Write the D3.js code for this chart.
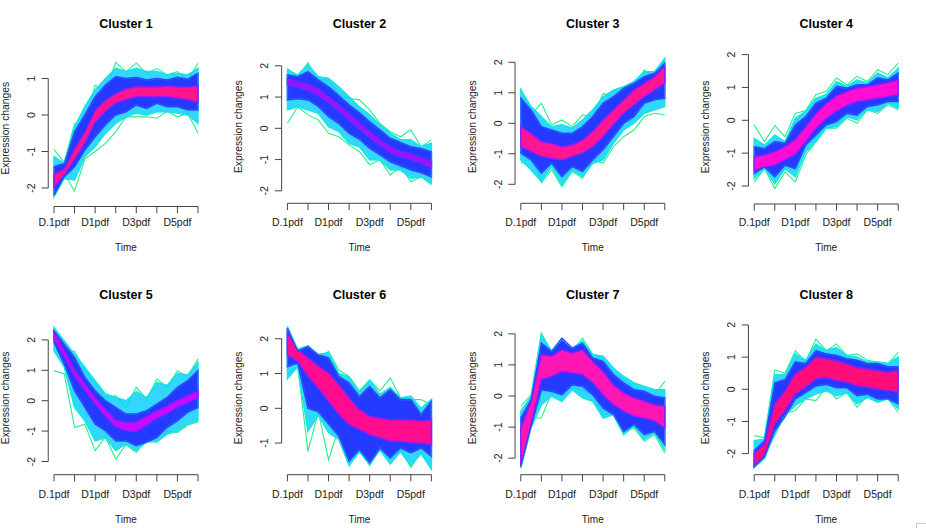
<!DOCTYPE html>
<html><head><meta charset="utf-8">
<script src="https://cdn.jsdelivr.net/npm/d3@7"></script>
<style>body{margin:0;background:#fff}svg{display:block;font-family:"Liberation Sans",Arial,Helvetica,sans-serif}</style>
</head><body>
<svg id="chart" width="926" height="528"></svg>
<script>
// ---------- DATA (15 time points; ticks every other point) ----------
const timeIndex = d3.range(15);
const tickIndex = [0, 2, 4, 6, 8, 10, 12, 14];
const tickLabels = ["D.1pdf", "", "D1pdf", "", "D3pdf", "", "D5pdf", ""];
const clusterTitles = ["Cluster 1","Cluster 2","Cluster 3","Cluster 4","Cluster 5","Cluster 6","Cluster 7","Cluster 8"];
const yDomains = [[-2.507,1.781],[-2.40,2.506],[-2.623,2.403],[-2.548,2.14],[-2.434,2.622],[-1.91,2.511],[-2.532,2.413],[-2.654,2.122]];

// envelopes of the line bundles by membership (green = low ... core = high)
const c1GreenHi = [-0.94,-1.3,-0.23,-0.32,0.82,0.65,1.44,1.19,1.42,1.14,1.28,1.1,1.19,0.96,1.42];
const c1GreenLo = [-2.24,-1.62,-2.08,-1.2,-1.0,-0.78,-0.46,-0.05,-0.05,-0.05,-0.09,0.1,-0.05,0.05,-0.5];
const c1CyanHi  = [-1.14,-1.33,-0.32,0.23,0.69,1.0,1.28,1.19,1.28,1.19,1.19,1.1,1.14,1.1,1.28];
const c1CyanLo  = [-2.24,-1.74,-1.78,-1.14,-0.87,-0.5,-0.23,-0.05,0.05,0.0,0.09,0.09,0.05,0.0,-0.23];
const c1BlueHi  = [-1.42,-1.33,-0.46,0.0,0.5,0.82,1.05,1.0,1.03,0.96,1.0,0.96,1.03,0.98,1.14];
const c1BlueLo  = [-2.2,-1.69,-1.42,-0.96,-0.6,-0.27,0.0,0.09,0.27,0.18,0.32,0.23,0.23,0.14,0.14];
const c1CoreHi  = [-1.62,-1.48,-0.93,-0.48,0.12,0.4,0.58,0.72,0.77,0.77,0.77,0.8,0.77,0.76,0.8];
const c1CoreLo  = [-1.98,-1.64,-1.22,-0.76,-0.2,0.1,0.33,0.42,0.5,0.5,0.5,0.5,0.46,0.42,0.34];

const c2GreenHi = [1.92,1.65,2.1,1.55,1.55,1.07,0.96,0.91,0.59,0.16,-0.11,-0.27,-0.05,-0.59,-0.37];
const c2GreenLo = [0.16,0.69,0.43,0.27,-0.16,-0.27,-0.53,-0.75,-1.17,-1.01,-1.49,-1.23,-1.71,-1.55,-1.81];
const c2CyanHi  = [1.87,1.71,2.03,1.65,1.6,1.33,1.01,0.69,0.43,0.11,-0.16,-0.37,-0.37,-0.59,-0.48];
const c2CyanLo  = [0.59,0.69,0.59,0.48,0.05,-0.1,-0.48,-0.59,-1.01,-1.01,-1.33,-1.33,-1.6,-1.55,-1.76];
const c2BlueHi  = [1.71,1.65,1.81,1.55,1.33,1.05,0.75,0.5,0.21,-0.05,-0.32,-0.45,-0.59,-0.65,-0.75];
const c2BlueLo  = [0.91,0.95,0.91,0.7,0.37,0.15,-0.16,-0.35,-0.64,-0.85,-1.07,-1.2,-1.33,-1.42,-1.55];
const c2CoreHi  = [1.58,1.48,1.4,1.26,1.0,0.74,0.46,0.16,-0.12,-0.37,-0.6,-0.74,-0.82,-0.94,-1.08];
const c2CoreLo  = [1.4,1.32,1.22,1.06,0.82,0.56,0.28,-0.02,-0.3,-0.54,-0.78,-0.9,-1.0,-1.1,-1.26];

const c3GreenHi = [1.15,0.27,0.66,-0.05,0.11,-0.11,0.27,0.22,0.98,0.87,1.18,1.15,1.75,1.42,2.13];
const c3GreenLo = [-1.31,-1.09,-1.95,-1.53,-2.08,-1.58,-1.8,-1.2,-1.31,-0.77,-0.44,-0.22,0.22,0.33,0.27];
const c3CyanHi  = [1.09,0.55,0.22,-0.11,-0.05,-0.16,0.11,0.44,0.87,1.09,1.2,1.37,1.69,1.69,2.13];
const c3CyanLo  = [-1.2,-1.53,-1.91,-1.42,-2.02,-1.53,-1.75,-1.31,-1.2,-0.66,-0.22,0.0,0.33,0.44,0.55];
const c3BlueHi  = [0.82,0.44,-0.11,-0.22,-0.33,-0.33,-0.11,0.22,0.66,0.87,1.15,1.31,1.53,1.64,1.97];
const c3BlueLo  = [-0.98,-1.2,-1.64,-1.31,-1.75,-1.42,-1.58,-1.2,-0.87,-0.44,0.0,0.22,0.66,0.77,0.82];
const c3CoreHi  = [-0.11,-0.33,-0.6,-0.66,-0.77,-0.71,-0.55,-0.27,0.11,0.44,0.77,1.09,1.31,1.53,1.86];
const c3CoreLo  = [-0.77,-0.93,-1.09,-1.15,-1.2,-1.09,-0.98,-0.77,-0.44,-0.05,0.33,0.6,0.87,1.09,1.31];

const c4GreenHi = [-0.14,-0.65,-0.16,-0.5,0.21,0.3,0.78,0.88,1.29,1.08,1.34,1.18,1.54,1.39,1.74];
const c4GreenLo = [-1.88,-1.47,-2.08,-1.57,-1.88,-1.06,-0.65,-0.24,-0.24,0.06,-0.09,0.32,0.21,0.47,0.32];
const c4CyanHi  = [-0.55,-0.76,-0.45,-0.65,0.06,0.27,0.67,0.78,1.18,1.03,1.23,1.13,1.44,1.29,1.59];
const c4CyanLo  = [-1.78,-1.47,-1.93,-1.47,-1.72,-0.96,-0.65,-0.24,-0.19,0.11,0.01,0.32,0.27,0.52,0.37];
const c4BlueHi  = [-0.81,-0.86,-0.65,-0.7,-0.14,0.11,0.52,0.67,1.03,0.98,1.08,1.08,1.29,1.23,1.44];
const c4BlueLo  = [-1.62,-1.42,-1.72,-1.37,-1.47,-0.76,-0.45,-0.14,-0.04,0.21,0.16,0.42,0.47,0.57,0.57];
const c4CoreHi  = [-1.11,-1.06,-0.96,-0.8,-0.58,-0.2,0.2,0.5,0.75,0.88,0.98,1.03,1.08,1.15,1.23];
const c4CoreLo  = [-1.52,-1.42,-1.37,-1.2,-1.04,-0.65,-0.25,0.05,0.28,0.45,0.57,0.62,0.67,0.72,0.78];

const c5GreenHi = [2.36,1.53,1.64,0.99,0.55,0.11,0.16,-0.2,0.44,0.05,0.71,0.45,0.99,0.8,1.37];
const c5GreenLo = [0.99,0.88,-0.88,-0.77,-1.64,-1.2,-1.92,-1.45,-1.7,-1.25,-1.37,-1.0,-1.04,-0.8,-0.7];
const c5CyanHi  = [2.41,1.97,1.53,1.1,0.66,0.22,0.11,0.0,0.3,0.1,0.6,0.5,0.9,0.85,1.26];
const c5CyanLo  = [1.64,1.1,-0.22,-0.66,-1.32,-1.21,-1.64,-1.42,-1.65,-1.35,-1.35,-1.1,-0.99,-0.77,-0.66];
const c5BlueHi  = [2.3,1.86,1.42,0.77,0.33,0.0,-0.22,-0.44,-0.44,-0.33,-0.11,0.11,0.44,0.66,0.99];
const c5BlueLo  = [1.92,1.2,0.33,-0.22,-0.77,-0.99,-1.32,-1.32,-1.48,-1.37,-1.21,-0.88,-0.66,-0.38,-0.22];
const c5CoreHi  = [2.26,1.66,1.0,0.55,0.1,-0.29,-0.64,-0.72,-0.7,-0.52,-0.34,-0.18,0.01,0.16,0.31];
const c5CoreLo  = [2.04,1.44,0.8,0.35,-0.1,-0.51,-0.86,-0.98,-1.02,-0.8,-0.58,-0.42,-0.21,-0.06,0.09];

const c6GreenHi = [2.2,1.65,1.7,1.45,1.64,1.1,0.92,0.5,0.82,0.5,0.87,0.3,0.25,0.25,0.1];
const c6GreenLo = [1.0,1.2,-1.24,-0.1,-1.48,-0.55,-1.55,-1.2,-1.65,-1.15,-1.6,-1.2,-1.7,-1.25,-1.75];
const c6CyanHi  = [2.35,1.7,1.8,1.55,1.6,1.0,0.9,0.45,0.8,0.4,0.6,0.3,0.35,0.0,0.25];
const c6CyanLo  = [0.85,1.2,-0.66,-0.2,-0.7,-0.9,-1.65,-1.25,-1.62,-1.2,-1.6,-1.25,-1.65,-1.3,-1.75];
const c6BlueHi  = [2.31,1.64,1.78,1.54,1.45,0.92,0.73,0.34,0.63,0.3,0.54,0.25,0.25,-0.18,0.2];
const c6BlueLo  = [1.2,1.3,0.0,-0.1,-0.45,-0.8,-1.52,-1.19,-1.57,-1.14,-1.43,-1.14,-1.28,-1.14,-1.38];
const c6CoreHi  = [2.16,1.69,1.45,1.21,1.02,0.68,0.3,-0.04,-0.23,-0.28,-0.33,-0.33,-0.33,-0.37,-0.33];
const c6CoreLo  = [1.54,1.35,0.92,0.58,0.2,-0.18,-0.47,-0.61,-0.76,-0.85,-0.95,-0.95,-1.0,-1.0,-1.04];

const c7GreenHi = [-0.33,0.04,2.03,1.38,1.65,1.44,1.86,1.33,1.17,0.74,0.53,0.26,0.15,0.04,0.47];
const c7GreenLo = [-2.2,-0.71,-0.71,0.1,0.15,0.26,0.2,0.04,-0.6,-0.49,-1.14,-1.03,-1.46,-1.24,-1.83];
const c7CyanHi  = [-0.49,-0.01,1.97,1.44,1.81,1.54,1.76,1.33,1.28,0.9,0.63,0.42,0.31,0.2,0.2];
const c7CyanLo  = [-2.32,-1.03,-0.28,-0.01,-0.17,0.2,-0.06,-0.17,-0.71,-0.6,-1.24,-0.97,-1.4,-1.19,-1.73];
const c7BlueHi  = [-0.71,-0.12,1.7,1.44,1.86,1.54,1.7,1.22,1.11,0.69,0.42,0.2,0.15,-0.01,-0.06];
const c7BlueLo  = [-2.26,-0.97,0.2,0.15,0.04,0.36,0.31,0.04,-0.39,-0.6,-1.14,-0.92,-1.24,-1.14,-1.56];
const c7CoreHi  = [-1.03,-0.17,1.33,1.28,1.49,1.38,1.49,1.11,0.79,0.36,0.1,-0.06,-0.17,-0.28,-0.33];
const c7CoreLo  = [-2.26,-0.92,0.53,0.63,0.79,0.74,0.69,0.42,0.04,-0.28,-0.49,-0.65,-0.71,-0.81,-1.03];

const c8GreenHi = [-1.44,-1.5,0.6,0.5,1.2,0.85,1.56,1.2,1.41,1.05,1.1,0.9,0.84,0.8,1.15];
const c8GreenLo = [-2.3,-2.0,-1.44,-0.75,-0.66,-0.3,-0.35,0.05,-0.3,-0.1,-0.56,-0.2,-0.35,-0.3,-0.72];
const c8CyanHi  = [-1.6,-1.55,0.45,0.45,1.1,0.9,1.4,1.2,1.3,1.05,1.0,0.85,0.85,0.8,1.0];
const c8CyanLo  = [-2.42,-2.15,-1.35,-0.8,-0.5,-0.3,-0.15,-0.05,-0.2,-0.1,-0.45,-0.25,-0.4,-0.3,-0.6];
const c8BlueHi  = [-1.9,-1.6,0.2,0.3,0.85,0.8,1.2,1.1,1.05,0.95,0.9,0.8,0.8,0.7,0.7];
const c8BlueLo  = [-2.42,-2.1,-1.3,-0.85,-0.3,-0.1,0.1,0.15,0.05,0.05,-0.2,-0.15,-0.3,-0.3,-0.45];
const c8CoreHi  = [-2.0,-1.7,-0.46,-0.05,0.48,0.68,1.0,0.95,0.89,0.79,0.68,0.63,0.58,0.53,0.58];
const c8CoreLo  = [-2.37,-2.06,-1.08,-0.66,-0.15,0.06,0.32,0.37,0.27,0.22,0.11,0.06,0.01,-0.04,-0.09];

const coreColors = ["#FF138F","#9414FF","#FF1493","#FF0CD2","#C80CFF","#FF0A8E","#FF14B4","#FF0A78"];

// ---------- LAYOUT ----------
const svg = d3.select("#chart");
const defs = svg.append("defs");
defs.append("filter").attr("id", "soft").attr("x", "-5%").attr("y", "-5%").attr("width", "110%").attr("height", "110%")
  .append("feGaussianBlur").attr("stdDeviation", 0.7);

const bands = [
  [c1GreenHi,c1GreenLo,c1CyanHi,c1CyanLo,c1BlueHi,c1BlueLo,c1CoreHi,c1CoreLo],
  [c2GreenHi,c2GreenLo,c2CyanHi,c2CyanLo,c2BlueHi,c2BlueLo,c2CoreHi,c2CoreLo],
  [c3GreenHi,c3GreenLo,c3CyanHi,c3CyanLo,c3BlueHi,c3BlueLo,c3CoreHi,c3CoreLo],
  [c4GreenHi,c4GreenLo,c4CyanHi,c4CyanLo,c4BlueHi,c4BlueLo,c4CoreHi,c4CoreLo],
  [c5GreenHi,c5GreenLo,c5CyanHi,c5CyanLo,c5BlueHi,c5BlueLo,c5CoreHi,c5CoreLo],
  [c6GreenHi,c6GreenLo,c6CyanHi,c6CyanLo,c6BlueHi,c6BlueLo,c6CoreHi,c6CoreLo],
  [c7GreenHi,c7GreenLo,c7CyanHi,c7CyanLo,c7BlueHi,c7BlueLo,c7CoreHi,c7CoreLo],
  [c8GreenHi,c8GreenLo,c8CyanHi,c8CyanLo,c8BlueHi,c8BlueLo,c8CoreHi,c8CoreLo]
];
const colStart = 54, colStep = 233.4, spanW = 144;
const rowTop = [50, 321];
const panelBottom = [206.5, 203.3, 203.3, 204, 474.7, 474.7, 474.7, 474.7];
const titleY = [23.7, 294.7], tickLabY = [221.7, 494], timeY = [247, 519.7];
const GREEN = "#22F08C", AQUA = "#14E6E0", CYAN = "#12CFFF", LBLUE = "#2E6EFF", BLUE = "#2232FF", FRINGE = "#8F1CFF";
const axisCol = "#444", txtCol = "#222";

bands.forEach((b, p) => {
  const r = p < 4 ? 0 : 1, c = p % 4;
  const x0 = colStart + c * colStep;
  const pad = 0.04 * spanW;
  const x = d3.scaleLinear().domain([-0.56, 14.56]).range([x0 - pad, x0 + spanW + pad]);
  const y = d3.scaleLinear().domain(yDomains[p]).range([panelBottom[p], rowTop[r]]);
  const g = svg.append("g");
  const line = d3.line().x((d, i) => x(timeIndex[i])).y(d => y(d));
  const area = (hi, lo) => d3.area().x((d, i) => x(timeIndex[i])).y0((d, i) => y(lo[i])).y1(d => y(d))(hi);
  const [gHi, gLo, cHi, cLo, bHi, bLo, mHi, mLo] = b;

  // green low-membership lines
  [gHi, gLo].forEach(s => g.append("path").attr("d", line(s)).attr("fill", "none").attr("stroke", GREEN).attr("stroke-width", 1.1));
  const soft = g.append("g").attr("filter", "url(#soft)");
  // cyan band
  soft.append("path").attr("d", area(cHi, cLo)).attr("fill", CYAN).attr("fill-opacity", 0.85)
    .attr("stroke", AQUA).attr("stroke-width", 1.4);
  // blue band
  soft.append("path").attr("d", area(bHi, bLo)).attr("fill", BLUE).attr("fill-opacity", 0.95)
    .attr("stroke", LBLUE).attr("stroke-width", 1.6);
  // core band
  soft.append("path").attr("d", area(mHi, mLo)).attr("fill", coreColors[p])
    .attr("stroke", FRINGE).attr("stroke-width", 1.6).attr("stroke-opacity", 0.85);
  // crisp edges on top
  [cHi, cLo].forEach(s => g.append("path").attr("d", line(s)).attr("fill", "none").attr("stroke", AQUA).attr("stroke-width", 0.9).attr("stroke-opacity", 0.8));
  [bHi, bLo].forEach(s => g.append("path").attr("d", line(s)).attr("fill", "none").attr("stroke", BLUE).attr("stroke-width", 0.9).attr("stroke-opacity", 0.8));

  // y axis (R style: line spans first to last tick)
  const yt = d3.range(Math.ceil(yDomains[p][0]), Math.floor(yDomains[p][1]) + 1);
  const ax = x(-0.56);
  g.append("line").attr("x1", ax).attr("x2", ax).attr("y1", y(yt[0])).attr("y2", y(yt[yt.length - 1]))
    .attr("stroke", axisCol).attr("stroke-width", 1);
  yt.forEach(t => {
    g.append("line").attr("x1", ax - 6.7).attr("x2", ax).attr("y1", y(t)).attr("y2", y(t)).attr("stroke", axisCol);
    g.append("text").attr("transform", `translate(${ax - 17.5},${y(t)}) rotate(-90)`)
      .attr("text-anchor", "middle").attr("dominant-baseline", "central")
      .attr("font-size", 10.5).attr("fill", txtCol).text(t);
  });
  // x axis
  const by = panelBottom[p];
  g.append("line").attr("x1", x(tickIndex[0])).attr("x2", x(tickIndex[tickIndex.length - 1]))
    .attr("y1", by).attr("y2", by).attr("stroke", axisCol);
  tickIndex.forEach((t, i) => {
    g.append("line").attr("x1", x(t)).attr("x2", x(t)).attr("y1", by).attr("y2", by + 6.7).attr("stroke", axisCol);
    if (tickLabels[i]) g.append("text").attr("x", x(t)).attr("y", tickLabY[r])
      .attr("text-anchor", "middle").attr("dominant-baseline", "central")
      .attr("font-size", 10.5).attr("fill", txtCol).text(tickLabels[i]);
  });
  const cx = x(7);
  g.append("text").attr("x", cx).attr("y", titleY[r]).attr("text-anchor", "middle").attr("dominant-baseline", "central")
    .attr("font-size", 12.5).attr("font-weight", "bold").attr("fill", "#000").text(clusterTitles[p]);
  g.append("text").attr("x", cx).attr("y", timeY[r]).attr("text-anchor", "middle").attr("dominant-baseline", "central")
    .attr("font-size", 10).attr("fill", txtCol).text("Time");
  g.append("text").attr("transform", `translate(${ax - 43},${(rowTop[r] + by) / 2}) rotate(-90)`)
    .attr("text-anchor", "middle").attr("dominant-baseline", "central")
    .attr("font-size", 10.3).attr("fill", txtCol).text("Expression changes");
});
// small artifact box bottom-right
svg.append("rect").attr("x", 916.5).attr("y", 523.5).attr("width", 12).attr("height", 8)
  .attr("fill", "none").attr("stroke", "#ccc");
</script>
</body></html>
